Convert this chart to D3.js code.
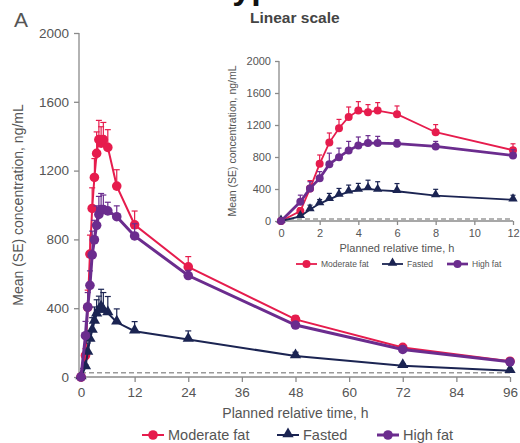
<!DOCTYPE html>
<html>
<head>
<meta charset="utf-8">
<script src="https://cdn.jsdelivr.net/npm/d3@7"></script>
<style>
  body { margin: 0; background: #fff; }
  svg text { font-family: "Liberation Sans", Arial, sans-serif; fill: #555; }
</style>
</head>
<body>
<div id="chart"></div>
<script>
// planned relative time, h
var times = [0, 1, 1.5, 2, 2.5, 3, 3.5, 4, 4.5, 5, 6, 8, 12, 24, 48, 72, 96];

// mean concentration, ng/mL, and the SE for each arm
var moderateFat   = [0, 125, 405, 715, 980, 1160, 1300, 1380, 1360, 1380, 1335, 1110, 885, 640, 335, 172, 92];
var moderateFatSE = [0, 40, 100, 110, 120, 110, 125, 112, 95, 100, 103, 95, 80, 60, 22, 12, 8];
var fasted        = [0, 58, 143, 218, 270, 323, 365, 386, 405, 386, 372, 318, 266, 218, 122, 66, 37];
var fastedSE      = [0, 12, 55, 50, 75, 84, 84, 84, 105, 105, 96, 78, 56, 50, 22, 10, 5];
var highFat       = [0, 240, 407, 533, 710, 798, 882, 945, 974, 974, 966, 932, 820, 590, 302, 160, 88];
var highFatSE     = [0, 83, 84, 84, 138, 113, 113, 105, 93, 84, 50, 63, 71, 30, 15, 10, 8];

var lloq = 25;

var mainXTicks = [0, 12, 24, 36, 48, 60, 72, 84, 96];
var insetXTicks = [0, 2, 4, 6, 8, 10, 12];
var yTicks = [0, 400, 800, 1200, 1600, 2000];

var series = [
    {name: "Moderate fat", values: moderateFat, se: moderateFatSE, color: "#e61c4d", shape: "circle", width: 2},
    {name: "Fasted", values: fasted, se: fastedSE, color: "#1b2452", shape: "triangle", width: 2},
    {name: "High fat", values: highFat, se: highFatSE, color: "#6b2c8e", shape: "circle", width: 3}
];

var svg = d3.select("#chart")
    .append("svg")
    .attr("width", 520)
    .attr("height", 443);

// cropped title at the very top of the picture (only descenders show)
svg.append("text")
    .attr("x", 214)
    .attr("y", -1)
    .style("font-size", "34px")
    .style("font-weight", "bold")
    .style("fill", "#111")
    .text("Typ");

svg.append("text")
    .attr("x", 14)
    .attr("y", 27)
    .style("font-size", "21px")
    .text("A");

svg.append("text")
    .attr("x", 250)
    .attr("y", 23)
    .style("font-size", "15.5px")
    .style("font-weight", "bold")
    .style("fill", "#444")
    .text("Linear scale");

// ---------------------------//
//       PANEL DRAWING        //
// ---------------------------//
function drawPanel(opt) {
    var g = svg.append("g");
    var n = opt.maxTime;

    var x = d3.scaleLinear().domain([0, n]).range([opt.x0, opt.x1]);
    var y = d3.scaleLinear().domain([0, 2000]).range([opt.y0, opt.y1]);

    // Y axis
    var yAxis = g.append("g")
        .attr("transform", "translate(" + (opt.x0 - 2) + ",0)")
        .call(d3.axisLeft(y).tickValues(yTicks).tickFormat(d3.format("d"))
            .tickSize(opt.tick).tickPadding(opt.pad));

    // X axis
    var xAxis = g.append("g")
        .attr("transform", "translate(0," + opt.y0 + ")")
        .call(d3.axisBottom(x).tickValues(opt.xTicks).tickFormat(d3.format("d"))
            .tickSize(opt.tick).tickPadding(opt.pad));

    [yAxis, xAxis].forEach(function(a) {
        a.select(".domain").attr("stroke", "#8a8a8a").attr("stroke-width", 1.3);
        a.selectAll(".tick line").attr("stroke", "#8a8a8a").attr("stroke-width", 1.3);
        a.selectAll(".tick text")
            .style("font-size", opt.tickFont + "px")
            .style("font-family", "'Liberation Sans', Arial, sans-serif")
            .style("fill", "#555");
    });
    yAxis.select(".domain").attr("d", "M0," + opt.y0 + "V" + opt.y1);
    xAxis.select(".domain").attr("d", "M" + (opt.x0 - 2) + ",0H" + opt.x1);

    // axis titles
    g.append("text")
        .attr("x", (opt.x0 + opt.x1) / 2)
        .attr("y", opt.xTitleY)
        .attr("text-anchor", "middle")
        .style("font-size", opt.titleFont + "px")
        .text("Planned relative time, h");

    g.append("text")
        .attr("transform", "translate(" + opt.yTitleX + "," + opt.yTitleY + ") rotate(-90)")
        .attr("text-anchor", "middle")
        .style("font-size", opt.yTitleFont + "px")
        .text("Mean (SE) concentration, ng/mL");

    // LLOQ dashed line
    g.append("line")
        .attr("x1", x(0)).attr("x2", x(n))
        .attr("y1", y(lloq)).attr("y2", y(lloq))
        .attr("stroke", "#9a9a9a")
        .attr("stroke-width", 1.5)
        .attr("stroke-dasharray", "5,3");

    var tri = d3.symbol().type(d3.symbolTriangle).size(opt.triSize);

    series.forEach(function(s) {
        var pts = times.map(function(t, i) { return {t: t, v: s.values[i], se: s.se[i]}; })
            .filter(function(d) { return d.t <= n; });

        // error bars (upper only)
        var eb = g.append("g").attr("stroke", s.color).attr("stroke-width", 1.2);
        eb.selectAll("line.bar")
            .data(pts.filter(function(d) { return d.se > 0; }))
            .enter()
            .append("line")
            .attr("x1", function(d) { return x(d.t); })
            .attr("x2", function(d) { return x(d.t); })
            .attr("y1", function(d) { return y(d.v); })
            .attr("y2", function(d) { return y(d.v + d.se); });
        eb.selectAll("line.cap")
            .data(pts.filter(function(d) { return d.se > 0; }))
            .enter()
            .append("line")
            .attr("x1", function(d) { return x(d.t) - opt.cap; })
            .attr("x2", function(d) { return x(d.t) + opt.cap; })
            .attr("y1", function(d) { return y(d.v + d.se); })
            .attr("y2", function(d) { return y(d.v + d.se); });

        g.append("path")
            .datum(pts)
            .attr("fill", "none")
            .attr("stroke", s.color)
            .attr("stroke-width", s.width * opt.lineScale)
            .attr("d", d3.line().x(function(d) { return x(d.t); }).y(function(d) { return y(d.v); }));

        if (s.shape === "circle") {
            g.selectAll(null)
                .data(pts)
                .enter()
                .append("circle")
                .attr("cx", function(d) { return x(d.t); })
                .attr("cy", function(d) { return y(d.v); })
                .attr("r", opt.r)
                .attr("fill", s.color);
        } else {
            g.selectAll(null)
                .data(pts)
                .enter()
                .append("path")
                .attr("d", tri)
                .attr("transform", function(d) { return "translate(" + x(d.t) + "," + (y(d.v) - 1) + ")"; })
                .attr("fill", s.color);
        }
    });

    // ---------------------------//
    //       LEGEND               //
    // ---------------------------//
    opt.legend.forEach(function(pos, i) {
        var s = series[i];
        g.append("line")
            .attr("x1", pos).attr("x2", pos + opt.legLine)
            .attr("y1", opt.legY).attr("y2", opt.legY)
            .attr("stroke", s.color)
            .attr("stroke-width", s.width * opt.lineScale);
        var cx = pos + opt.legLine / 2;
        if (s.shape === "circle") {
            g.append("circle").attr("cx", cx).attr("cy", opt.legY).attr("r", opt.r).attr("fill", s.color);
        } else {
            g.append("path").attr("d", tri)
                .attr("transform", "translate(" + cx + "," + (opt.legY - 1) + ")")
                .attr("fill", s.color);
        }
        g.append("text")
            .attr("x", pos + opt.legLine + opt.legGap)
            .attr("y", opt.legY)
            .attr("dy", "0.35em")
            .style("font-size", opt.legFont + "px")
            .text(s.name);
    });
}

// main panel, 0-96 h
drawPanel({
    maxTime: 96, xTicks: mainXTicks,
    x0: 81, x1: 510, y0: 377, y1: 33,
    tick: 5, pad: 5, tickFont: 13.5,
    titleFont: 14, xTitleY: 418,
    yTitleFont: 14, yTitleX: 23, yTitleY: 205,
    r: 4.8, triSize: 55, cap: 3, lineScale: 1,
    legend: [142, 277, 377], legLine: 22, legGap: 4, legY: 435, legFont: 14.5
});

// inset panel, 0-12 h
drawPanel({
    maxTime: 12, xTicks: insetXTicks,
    x0: 281, x1: 513, y0: 221, y1: 61,
    tick: 4, pad: 4, tickFont: 11,
    titleFont: 11, xTitleY: 252,
    yTitleFont: 10.5, yTitleX: 236, yTitleY: 141,
    r: 4, triSize: 38, cap: 2.5, lineScale: 0.9,
    legend: [296, 382, 447], legLine: 21, legGap: 4, legY: 264, legFont: 8.5
});
</script>
</body>
</html>
